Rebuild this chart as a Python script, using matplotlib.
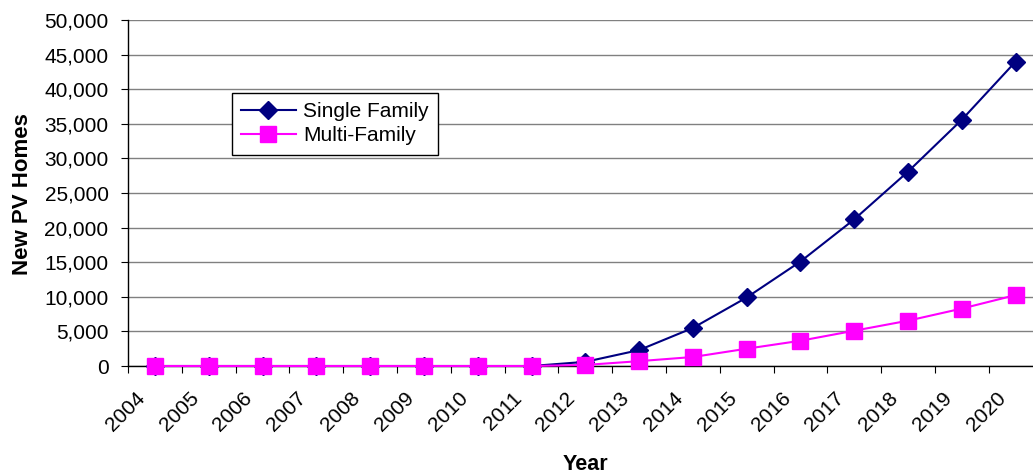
import matplotlib
matplotlib.use("Agg")
import matplotlib.pyplot as plt
import matplotlib.transforms as mtransforms
import numpy as np
from matplotlib.ticker import FuncFormatter, FixedLocator, NullFormatter

years = [str(y) for y in range(2004, 2021)]
single_family = [0, 0, 0, 0, 0, 0, 0, 0, 600, 2300, 5500, 9900, 15100, 21200, 28100, 35600, 44000]
multi_family = [0, 0, 0, 0, 0, 0, 0, 0, 150, 700, 1300, 2500, 3650, 5100, 6550, 8300, 10250]

plt.rcParams['font.family'] = ['Liberation Sans', 'DejaVu Sans']

W, H = 1033, 475
fig = plt.figure(figsize=(W / 100, H / 100), dpi=100)
ax = fig.add_axes([128 / W, 1 - 366 / H, 914.6 / W, 346 / H])

x = np.arange(len(years))
ax.plot(x, single_family, color='#000080', lw=1.5, marker='D', ms=9,
        label='Single Family', zorder=3, clip_on=False)
ax.plot(x, multi_family, color='#FF00FF', lw=1.5, marker='s', ms=11,
        label='Multi-Family', zorder=4, clip_on=False)

ax.set_xlim(-0.5, len(years) - 0.5)
ax.set_ylim(0, 50000)
ax.yaxis.set_major_locator(FixedLocator(np.arange(0, 50001, 5000)))
ax.yaxis.set_major_formatter(FuncFormatter(lambda v, p: f"{int(v):,}"))
ax.grid(axis='y', color='#808080', lw=1.0)
ax.set_axisbelow(True)

ax.xaxis.set_major_locator(FixedLocator(np.arange(-0.5, len(years), 1.0)))
ax.xaxis.set_major_formatter(NullFormatter())
ax.tick_params(axis='x', which='major', length=5, direction='out', color='black')
ax.tick_params(axis='y', length=5, direction='out', labelsize=15, pad=9)

# rotated category labels centred under each category
offset = mtransforms.ScaledTranslation(-13 / 100, -29 / 100, fig.dpi_scale_trans)
trans = ax.get_xaxis_transform() + offset
for xi, lab in zip(x, years):
    ax.text(xi, 0, lab, transform=trans, rotation=45, rotation_mode='anchor',
            ha='right', va='center', fontsize=15, clip_on=False)

for s in ['top', 'right']:
    ax.spines[s].set_visible(False)
for s in ['left', 'bottom']:
    ax.spines[s].set_color('black')
    ax.spines[s].set_linewidth(1.0)

ax.set_ylabel('New PV Homes', fontsize=16, fontweight='bold')
ax.yaxis.set_label_coords(33 / W, (H - 194) / H, transform=fig.transFigure)
fig.text(585 / W, (H - 464) / H, 'Year', fontsize=15.5, fontweight='bold',
         ha='center', va='center')

leg = ax.legend(loc='upper left', bbox_to_anchor=(0.1137, 0.79), fontsize=15,
                frameon=True, fancybox=False, edgecolor='black', framealpha=1,
                handlelength=2.6, borderpad=0.45, labelspacing=0.25, handletextpad=0.35,
                borderaxespad=0)
leg.get_frame().set_linewidth(1.0)

fig.savefig('out.png', dpi=100)
